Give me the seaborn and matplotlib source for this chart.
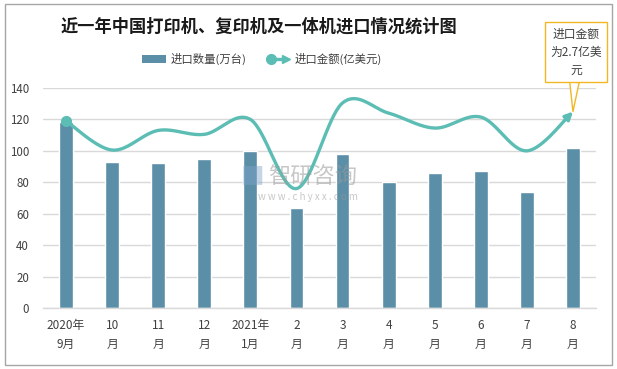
import numpy as np
import pandas as pd
import matplotlib
matplotlib.use("Agg")
import matplotlib.pyplot as plt
import seaborn as sns
from matplotlib.patches import Patch, Rectangle
from matplotlib.lines import Line2D
from matplotlib.legend_handler import HandlerBase

months = ["2020年\n9月", "10\n月", "11\n月", "12\n月", "2021年\n1月", "2\n月",
          "3\n月", "4\n月", "5\n月", "6\n月", "7\n月", "8\n月"]
qty = [118.2, 92.9, 92.3, 94.8, 99.9, 63.6, 98.0, 80.2, 85.9, 87.2, 73.8, 101.8]
amount = [119, 100.5, 113, 110.5, 120, 76, 130.5, 124, 114.5, 121.5, 100, 125]
yticks = [0, 20, 40, 60, 80, 100, 120, 140]

BAR_C = "#5B8FA8"
LINE_C = "#5BBDB4"
TXT_C = "#404040"

sns.set_theme(style="white")
plt.rcParams["font.family"] = ["Noto Sans CJK SC", "DejaVu Sans"]

fig = plt.figure(figsize=(6.17, 3.69), dpi=100)
ax = fig.add_axes([43 / 617, 1 - 308 / 369, (596 - 43) / 617, (308 - 88) / 369])

df = pd.DataFrame({"month": months, "qty": qty})
sns.barplot(data=df, x="month", y="qty", color=BAR_C, saturation=1, width=0.3, ax=ax, zorder=2)


def catmull(xv, yv, n=40):
    p = np.column_stack([xv, yv]).astype(float)
    pts = []
    for i in range(len(p) - 1):
        p0 = p[i - 1] if i > 0 else p[i]
        p1 = p[i]
        p2 = p[i + 1]
        p3 = p[i + 2] if i + 2 < len(p) else p[i + 1]
        c1 = p1 + (p2 - p0) / 6
        c2 = p2 - (p3 - p1) / 6
        t = np.linspace(0, 1, n, endpoint=False)[:, None]
        b = (1 - t) ** 3 * p1 + 3 * (1 - t) ** 2 * t * c1 + 3 * (1 - t) * t ** 2 * c2 + t ** 3 * p2
        pts.append(b)
    pts.append(p[-1:])
    return np.vstack(pts)


curve = catmull(np.arange(len(amount)), amount)
cut = len(curve) - 8
sns.lineplot(x=curve[:cut, 0], y=curve[:cut, 1], sort=False, estimator=None,
             color=LINE_C, lw=2.4, ax=ax, zorder=3)
ax.annotate("", xy=(curve[-1, 0], curve[-1, 1]), xytext=(curve[cut - 1, 0], curve[cut - 1, 1]),
            arrowprops=dict(arrowstyle="-|>", color=LINE_C, lw=2.4, mutation_scale=11,
                            shrinkA=0, shrinkB=0), zorder=3)
ax.plot([0], [amount[0]], marker="o", ms=7, color=LINE_C, zorder=4)

ax.set_xlim(-0.5, 11.5)
ax.set_ylim(0, 140)
ax.set_yticks(yticks)
ax.set_yticklabels([str(v) for v in yticks], fontsize=8.3, color=TXT_C)
ax.set_xticks(range(len(months)))
ax.set_xticklabels(months, fontsize=8.5, color=TXT_C, linespacing=1.55)
ax.tick_params(axis="both", length=0)
ax.tick_params(axis="x", pad=8)
ax.tick_params(axis="y", pad=10)
ax.set_xlabel("")
ax.set_ylabel("")
ax.grid(axis="y", color="#D9D9D9", lw=1, zorder=0)
ax.set_axisbelow(True)
for s in ["top", "right", "left"]:
    ax.spines[s].set_visible(False)
ax.spines["bottom"].set_color("#D9D9D9")
ax.spines["bottom"].set_linewidth(1)

# watermark
fig.text(252 / 617, 1 - 177 / 369, "■", fontsize=17, color="#7FA3C8", alpha=0.45, ha="center", va="center")
fig.text(268 / 617, 1 - 177 / 369, "智研咨询", fontsize=16, color="#9A9A9A", alpha=0.55, ha="left", va="center")
fig.text(308 / 617, 1 - 197 / 369, "w w w . c h y x x . c o m", fontsize=7, color="#9A9A9A", alpha=0.55,
         ha="center", va="center")


class ArrowLineHandler(HandlerBase):
    def create_artists(self, legend, orig_handle, xdescent, ydescent, width, height, fontsize, trans):
        y = height / 2 - ydescent
        x0, x1 = -xdescent, width - xdescent
        ln = Line2D([x0 + 3, x1 - 3], [y, y], color=LINE_C, lw=2.4, transform=trans)
        c = Line2D([x0 + 3], [y], marker="o", ms=7, color=LINE_C, transform=trans)
        a = Line2D([x1 - 3], [y], marker=">", ms=6, color=LINE_C, transform=trans)
        return [ln, c, a]


h_bar = Patch(facecolor=BAR_C, edgecolor="none")
h_line = Line2D([], [], color=LINE_C)
fig.legend([h_bar, h_line], ["进口数量(万台)", "进口金额(亿美元)"],
           handler_map={Line2D: ArrowLineHandler()},
           loc="center", bbox_to_anchor=(262 / 617, 1 - 59 / 369), ncol=2, frameon=False,
           fontsize=8.2, handlelength=2.1, handleheight=0.6, columnspacing=1.8, handletextpad=0.4,
           labelcolor=TXT_C)

fig.text(259 / 617, 1 - 27 / 369, "近一年中国打印机、复印机及一体机进口情况统计图",
         fontsize=12.4, fontweight="bold", color="#1A1A1A", ha="center", va="center")

# callout
ax.annotate("进口金额\n为2.7亿美\n元", xy=(11, amount[-1]), xycoords="data",
            xytext=(576 / 617, 1 - 52 / 369), textcoords="figure fraction",
            fontsize=8.5, color=TXT_C, ha="center", va="center", linespacing=1.5,
            bbox=dict(boxstyle="square,pad=0.45", fc="white", ec="#F2B824", lw=1),
            arrowprops=dict(arrowstyle="wedge,tail_width=0.8,shrink_factor=0.5", fc="white", ec="#F2B824",
                            lw=1, shrinkA=0, shrinkB=0), zorder=6)

# figure frame
fig.patches.append(Rectangle((5 / 617, 4 / 369), 607 / 617, 361 / 369, transform=fig.transFigure,
                             fill=False, ec="#A6A6A6", lw=1))

fig.savefig("out.png", dpi=100)
